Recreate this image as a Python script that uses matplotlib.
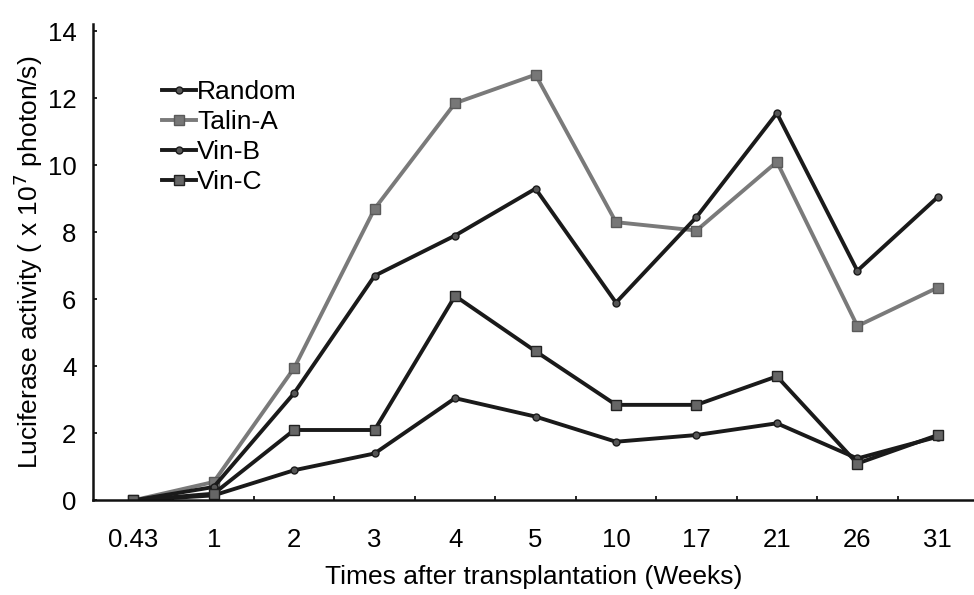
import numpy as np
import matplotlib
matplotlib.use("Agg")
from matplotlib import pyplot as plt

plt.rcParams['font.family'] = ['Liberation Sans', 'DejaVu Sans']

weeks = ['0.43', '1', '2', '3', '4', '5', '10', '17', '21', '26', '31']
random_ctrl = [0, 0.15, 0.9, 1.4, 3.05, 2.5, 1.75, 1.95, 2.3, 1.25, 1.9]
talin_a = [0, 0.55, 3.95, 8.7, 11.85, 12.7, 8.3, 8.05, 10.1, 5.2, 6.35]
vin_b = [0, 0.4, 3.2, 6.7, 7.9, 9.3, 5.9, 8.45, 11.55, 6.85, 9.05]
vin_c = [0, 0.2, 2.1, 2.1, 6.1, 4.45, 2.85, 2.85, 3.7, 1.1, 1.95]

x = np.arange(len(weeks))

fig = plt.figure(figsize=(9.74, 5.95), dpi=100)
ax = fig.add_axes([0.0955, 0.159, 0.9045, 0.80])

ax.plot(x, random_ctrl, color='#1a1a1a', lw=2.8, marker='o', ms=5,
        mfc='#555555', mec='#1a1a1a', label='Random')
ax.plot(x, talin_a, color='#7a7a7a', lw=2.8, marker='s', ms=6.5,
        mfc='#777777', mec='#5a5a5a', label='Talin-A')
ax.plot(x, vin_b, color='#1a1a1a', lw=2.8, marker='o', ms=5,
        mfc='#555555', mec='#1a1a1a', label='Vin-B')
ax.plot(x, vin_c, color='#1a1a1a', lw=2.8, marker='s', ms=6.5,
        mfc='#666666', mec='#222222', label='Vin-C')

ax.set_xlim(-0.5, 10.45)
ax.set_ylim(0, 14.2)
ax.set_yticks(np.arange(0, 15, 2))
ax.set_xticks(x)
ax.set_xticklabels(weeks)
ax.set_xticks(np.arange(0.5, 10.5, 1), minor=True)
ax.tick_params(axis='x', which='major', length=0, pad=20, labelsize=18.5)
ax.tick_params(axis='x', which='minor', direction='in', length=3, width=1.2)
ax.tick_params(axis='y', direction='in', length=3, width=1.2, pad=12, labelsize=18.5)

for s in ['top', 'right']:
    ax.spines[s].set_visible(False)
for s in ['left', 'bottom']:
    ax.spines[s].set_linewidth(1.8)
    ax.spines[s].set_color('#111111')

ax.set_xlabel('Times after transplantation (Weeks)', fontsize=19, labelpad=9)
ax.set_ylabel('Luciferase activity ( x 10$^7$ photon/s)', fontsize=19, labelpad=2)

ax.legend(loc='upper left', bbox_to_anchor=(0.063, 0.91), frameon=False,
          fontsize=19, handlelength=1.3, handletextpad=0.05, labelspacing=0.22,
          borderpad=0)

fig.savefig('out.png', dpi=100)
